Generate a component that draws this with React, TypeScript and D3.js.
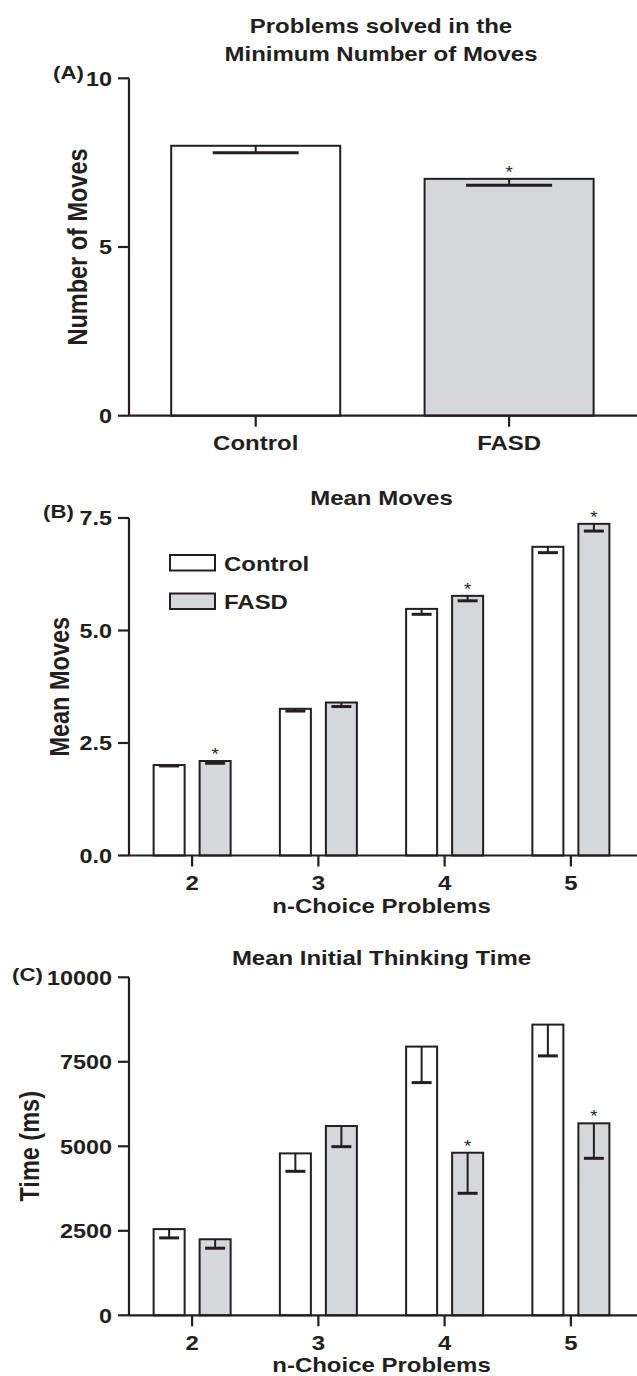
import * as d3 from "d3";
import React, { useEffect, useRef } from "react";

// panel A
const GROUPS_A = ["Control", "FASD"];
const MIN_MOVES = [8.0, 7.02];
const MIN_MOVES_ERR = [0.21, 0.19];
const MIN_MOVES_SIG = [false, true];
const TICKS_A = [0, 5, 10];

// panels B + C
const N_CHOICE = ["2", "3", "4", "5"];
const GROUPS = ["Control", "FASD"];
const MEAN_MOVES_CONTROL = [2.01, 3.26, 5.48, 6.86];
const MEAN_MOVES_CONTROL_ERR = [0.02, 0.05, 0.12, 0.13];
const MEAN_MOVES_FASD = [2.1, 3.4, 5.77, 7.37];
const MEAN_MOVES_FASD_ERR = [0.05, 0.09, 0.11, 0.16];
const MEAN_MOVES_SIG = [true, false, true, true];
const TICKS_B = [0, 2.5, 5, 7.5];

const THINK_CONTROL = [2550, 4790, 7950, 8600];
const THINK_CONTROL_ERR = [260, 530, 1065, 925];
const THINK_FASD = [2250, 5600, 4810, 5680];
const THINK_FASD_ERR = [265, 610, 1200, 1035];
const THINK_SIG = [false, false, true, true];
const TICKS_C = [0, 2500, 5000, 7500, 10000];

const INK = "#231f20";
const GREY = "#d6d7d9";
const FONT = "'Liberation Sans', Arial, Helvetica, sans-serif";
const SX = 1.17; // the figure is a bit stretched horizontally

type G = d3.Selection<SVGGElement, unknown, null, undefined>;

function txt(g: G, x: number, y: number, s: string, size: number, anchor = "middle", weight = "bold") {
  g.append("text")
    .attr("transform", `translate(${x},${y}) scale(${SX},1)`)
    .attr("text-anchor", anchor)
    .attr("font-family", FONT)
    .attr("font-weight", weight)
    .attr("font-size", size)
    .attr("fill", INK)
    .text(s);
}

function yAxis(g: G, y: d3.ScaleLinear<number, number>, ticks: number[], fmt: (v: number) => string, x0: number) {
  const [lo, hi] = y.domain();
  g.append("line")
    .attr("x1", x0).attr("x2", x0)
    .attr("y1", y(hi)).attr("y2", y(lo))
    .attr("stroke", INK).attr("stroke-width", 2.2);
  g.selectAll("line.yt").data(ticks).join("line")
    .attr("class", "yt")
    .attr("x1", x0 - 11).attr("x2", x0)
    .attr("y1", d => y(d)).attr("y2", d => y(d))
    .attr("stroke", INK).attr("stroke-width", 2.2);
  ticks.forEach(t => txt(g, x0 - 17, y(t) + 7.2, fmt(t), 20, "end"));
}

function yTitle(g: G, x: number, y: number, s: string) {
  g.append("text")
    .attr("transform", `translate(${x},${y}) scale(${SX},1) rotate(-90)`)
    .attr("text-anchor", "middle")
    .attr("font-family", FONT)
    .attr("font-weight", "bold")
    .attr("font-size", 23.5)
    .attr("fill", INK)
    .text(s);
}

type Bar = { x: number; w: number; v: number; e: number; fill: string; sig: boolean };

function bars(g: G, y: d3.ScaleLinear<number, number>, data: Bar[], capW: number) {
  const b = g.append("g").selectAll("g").data(data).join("g");
  b.append("rect")
    .attr("x", d => d.x).attr("width", d => d.w)
    .attr("y", d => y(d.v)).attr("height", d => y(0) - y(d.v))
    .attr("fill", d => d.fill)
    .attr("stroke", INK).attr("stroke-width", 2);
  // error bars only drawn downward
  b.append("line")
    .attr("x1", d => d.x + d.w / 2).attr("x2", d => d.x + d.w / 2)
    .attr("y1", d => y(d.v)).attr("y2", d => y(d.v - d.e))
    .attr("stroke", INK).attr("stroke-width", 2);
  b.append("line")
    .attr("x1", d => d.x + d.w / 2 - capW / 2).attr("x2", d => d.x + d.w / 2 + capW / 2)
    .attr("y1", d => y(d.v - d.e)).attr("y2", d => y(d.v - d.e))
    .attr("stroke", INK).attr("stroke-width", 3);
  data.filter(d => d.sig).forEach(d => txt(g, d.x + d.w / 2, y(d.v) - 1, "*", 16, "middle", "normal"));
}

function xAxis(g: G, y0: number, x0: number, x1: number, centers: number[]) {
  g.append("line")
    .attr("x1", x0).attr("x2", x1)
    .attr("y1", y0).attr("y2", y0)
    .attr("stroke", INK).attr("stroke-width", 2.2);
  g.selectAll("line.xt").data(centers).join("line")
    .attr("class", "xt")
    .attr("x1", d => d).attr("x2", d => d)
    .attr("y1", y0).attr("y2", y0 + 11)
    .attr("stroke", INK).attr("stroke-width", 2.2);
}

function groupedPanel(
  root: G, top: number, bottom: number, title: string, titleY: number, letter: string, letterX: number,
  letterY: number, ytitle: string, ytitleX: number, ticks: number[], fmt: (v: number) => string,
  control: number[], controlErr: number[], fasd: number[], fasdErr: number[], sig: boolean[], legend: boolean
) {
  const left = 129;
  const g = root.append("g");
  const y = d3.scaleLinear().domain([0, d3.max(ticks) as number]).range([bottom, top]);
  const x0 = d3.scaleBand<string>().domain(N_CHOICE).range([left, 634]).paddingInner(0.39).paddingOuter(0.195);
  const x1 = d3.scaleBand<string>().domain(GROUPS).range([0, x0.bandwidth()]).paddingInner(0.326);

  const data: Bar[] = [];
  N_CHOICE.forEach((c, i) => {
    data.push({ x: (x0(c) ?? 0) + (x1("Control") ?? 0), w: x1.bandwidth(), v: control[i], e: controlErr[i], fill: "#fff", sig: false });
    data.push({ x: (x0(c) ?? 0) + (x1("FASD") ?? 0), w: x1.bandwidth(), v: fasd[i], e: fasdErr[i], fill: GREY, sig: sig[i] });
  });
  bars(g, y, data, 20);

  const centers = N_CHOICE.map(c => (x0(c) ?? 0) + x0.bandwidth() / 2);
  xAxis(g, bottom, left, 637, centers);
  yAxis(g, y, ticks, fmt, left);
  N_CHOICE.forEach((c, i) => txt(g, centers[i], bottom + 34.5, c, 20.5));
  txt(g, 381.5, bottom + 57, "n-Choice Problems", 20.5);
  txt(g, 381.5, titleY, title, 20.5);
  txt(g, letterX, letterY, letter, 19, "start");
  yTitle(g, ytitleX, (top + bottom) / 2, ytitle);

  if (legend) {
    const lg = g.append("g");
    const rows = [{ k: "Control", fill: "#fff", y: 555 }, { k: "FASD", fill: GREY, y: 593.5 }];
    rows.forEach(r => {
      lg.append("rect").attr("x", 170).attr("y", r.y).attr("width", 45).attr("height", 15.5)
        .attr("fill", r.fill).attr("stroke", INK).attr("stroke-width", 2);
      txt(lg, 224, r.y + 15.5, r.k, 20.5, "start");
    });
  }
}

export default function App() {
  const svgRef = useRef<SVGSVGElement | null>(null);

  useEffect(() => {
    const svg = d3.select(svgRef.current);
    svg.selectAll("*").remove();
    const root = svg.append("g") as unknown as G;

    // ---- (A) ----
    const left = 129;
    const yA = d3.scaleLinear().domain([0, 10]).range([415.7, 78.3]);
    const xA = d3.scaleBand<string>().domain(GROUPS_A).range([left, 635.8]).paddingInner(0.333).paddingOuter(0.1665);
    const a = root.append("g");
    bars(a, yA, GROUPS_A.map((k, i) => ({
      x: xA(k) ?? 0, w: xA.bandwidth(), v: MIN_MOVES[i], e: MIN_MOVES_ERR[i],
      fill: i === 0 ? "#fff" : GREY, sig: MIN_MOVES_SIG[i],
    })), 86);
    const centersA = GROUPS_A.map(k => (xA(k) ?? 0) + xA.bandwidth() / 2);
    xAxis(a, yA(0), left, 637, centersA);
    yAxis(a, yA, TICKS_A, d => String(d), left);
    GROUPS_A.forEach((k, i) => txt(a, centersA[i], 450, k, 20.5));
    txt(a, 381, 32.5, "Problems solved in the", 20.5);
    txt(a, 381, 61, "Minimum Number of Moves", 20.5);
    txt(a, 53, 79, "(A)", 19, "start");
    yTitle(a, 87, (yA(0) + yA(10)) / 2, "Number of Moves");

    // ---- (B) ----
    groupedPanel(root, 518, 855.5, "Mean Moves", 505, "(B)", 43, 518, "Mean Moves", 69, TICKS_B, d => d.toFixed(1),
      MEAN_MOVES_CONTROL, MEAN_MOVES_CONTROL_ERR, MEAN_MOVES_FASD, MEAN_MOVES_FASD_ERR, MEAN_MOVES_SIG, true);

    // ---- (C) ----
    groupedPanel(root, 977.3, 1315.3, "Mean Initial Thinking Time", 964.5, "(C)", 12, 981, "Time (ms)", 38.5, TICKS_C, d => String(d),
      THINK_CONTROL, THINK_CONTROL_ERR, THINK_FASD, THINK_FASD_ERR, THINK_SIG, false);
  }, []);

  return (
    <svg
      ref={svgRef}
      width={637}
      height={1376}
      style={{ position: "absolute", left: 0, top: 0, background: "#fff" }}
    />
  );
}
